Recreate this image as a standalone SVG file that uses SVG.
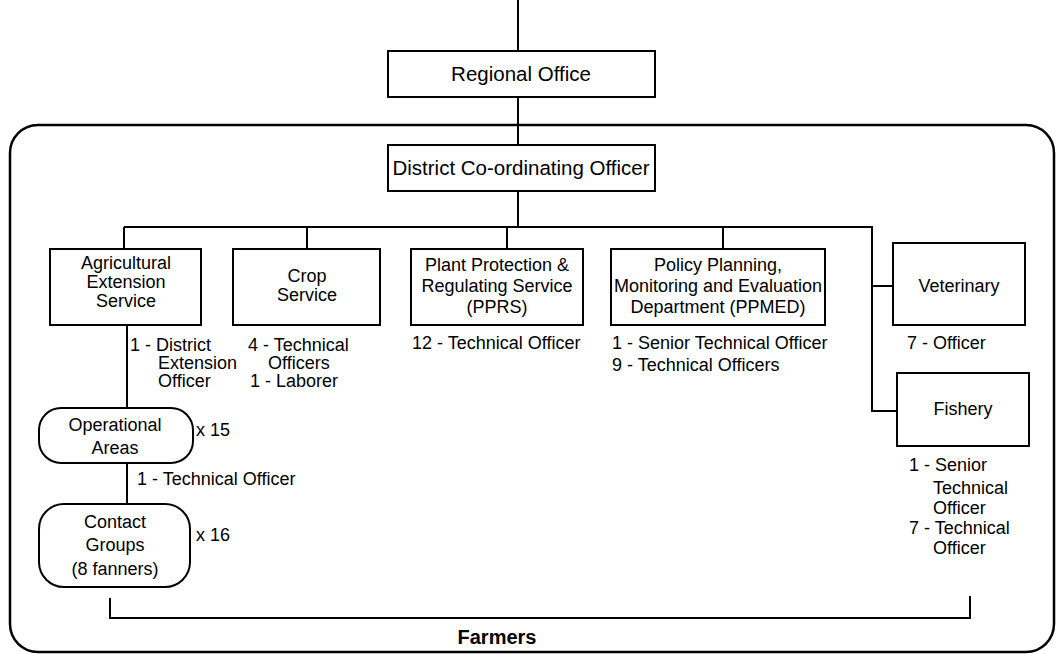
<svg xmlns="http://www.w3.org/2000/svg" width="1057" height="654" viewBox="0 0 1057 654">
<style>
.box{fill:#fff;stroke:#000;stroke-width:2}
.ln{fill:none;stroke:#000;stroke-width:2}
text{font-family:"Liberation Sans",Arial,sans-serif;font-size:18px;fill:#000}
.big{font-size:20.5px}
.c{text-anchor:middle}
.b{font-weight:bold;font-size:20px}
</style>
<rect width="1057" height="654" fill="#fff"/>
<rect id="frame" x="10" y="125" width="1044" height="527" rx="28" fill="none" stroke="#000" stroke-width="2.5"/>
<g id="connectors" class="ln">
<path d="M518,0 V51"/>
<path d="M518,97 V145"/>
<path d="M518,191 V227"/>
<path d="M124,227 H872 V411 H897"/>
<path d="M872,286 H893"/>
<path d="M124,227 V249"/>
<path d="M307,227 V249"/>
<path d="M507,227 V249"/>
<path d="M723,227 V249"/>
<path d="M127,325 V408"/>
<path d="M127,463 V504"/>
<path d="M110,598 V618 H970 V596"/>
</g>
<g id="regional"><rect class="box" x="388" y="51" width="267" height="46"/><text class="big c" x="521" y="81">Regional Office</text></g>
<g id="district"><rect class="box" x="388" y="145" width="267" height="46"/><text class="big c" x="521" y="175">District Co-ordinating Officer</text></g>
<g id="agri"><rect class="box" x="50" y="249" width="151" height="76"/>
<text class="c" x="126" y="269">Agricultural</text><text class="c" x="126" y="288">Extension</text><text class="c" x="126" y="307">Service</text>
<text x="130" y="351">1 - District</text><text x="158" y="369">Extension</text><text x="158" y="387">Officer</text></g>
<g id="crop"><rect class="box" x="233" y="249" width="147" height="76"/>
<text class="c" x="307" y="282">Crop</text><text class="c" x="307" y="301">Service</text>
<text x="248" y="351">4 - Technical</text><text x="268" y="369">Officers</text><text x="250" y="387">1 - Laborer</text></g>
<g id="pprs"><rect class="box" x="411" y="249" width="172" height="76"/>
<text class="c" x="497" y="271">Plant Protection &amp;</text><text class="c" x="497" y="292">Regulating Service</text><text class="c" x="497" y="313">(PPRS)</text>
<text x="412" y="349">12 - Technical Officer</text></g>
<g id="ppmed"><rect class="box" x="611" y="249" width="214" height="76"/>
<text class="c" x="718" y="271">Policy Planning,</text><text class="c" x="718" y="292">Monitoring and Evaluation</text><text class="c" x="718" y="313">Department (PPMED)</text>
<text x="612" y="349" font-size="18.5">1 - Senior Technical Officer</text><text x="612" y="371" font-size="18.5">9 - Technical Officers</text></g>
<g id="veterinary"><rect class="box" x="893" y="243" width="132" height="82"/>
<text class="c" x="959" y="292">Veterinary</text><text x="907" y="349">7 - Officer</text></g>
<g id="fishery"><rect class="box" x="897" y="373" width="132" height="73"/>
<text class="c" x="963" y="415">Fishery</text>
<text x="909" y="471">1 - Senior</text><text x="933" y="494">Technical</text><text x="933" y="514">Officer</text><text x="909" y="534">7 - Technical</text><text x="933" y="554">Officer</text></g>
<g id="operational"><rect class="box" x="39" y="408" width="154" height="55" rx="22"/>
<text class="c" x="115" y="431">Operational</text><text class="c" x="115" y="454">Areas</text>
<text x="196" y="436">x 15</text><text x="137" y="485">1 - Technical Officer</text></g>
<g id="contact"><rect class="box" x="39" y="504" width="151" height="83" rx="25"/>
<text class="c" x="115" y="528">Contact</text><text class="c" x="115" y="551">Groups</text><text class="c" x="115" y="575">(8 fanners)</text>
<text x="196" y="541">x 16</text></g>
<g id="farmers"><text class="b c" x="497" y="644">Farmers</text></g>
</svg>
